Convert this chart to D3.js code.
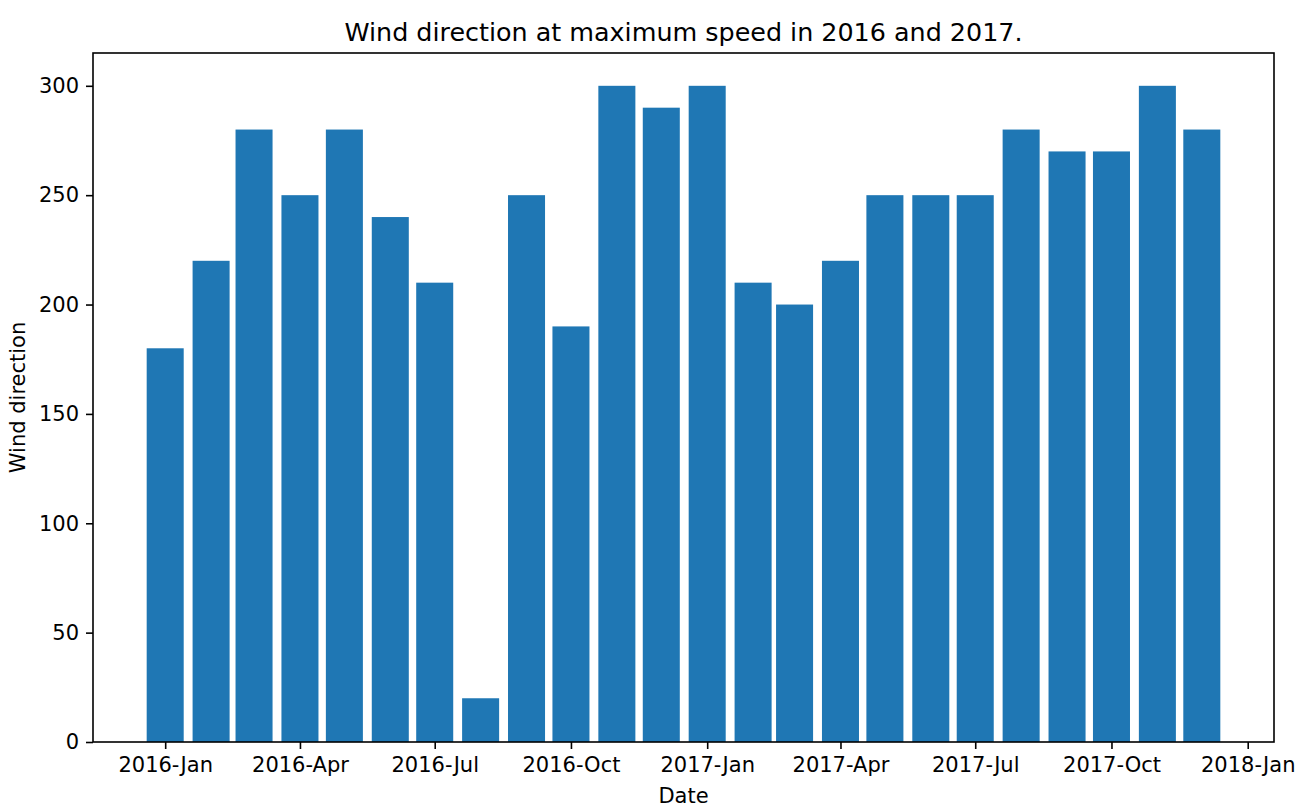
<!DOCTYPE html>
<html><head><meta charset="utf-8">
<script src="https://cdn.jsdelivr.net/npm/d3@7"></script>
<style>body{margin:0;background:#fff}text{font-family:"DejaVu Sans",sans-serif;fill:#000}</style>
</head><body><svg id="c" width="1297" height="809"></svg>
<script>
const months = ["2016-01","2016-02","2016-03","2016-04","2016-05","2016-06","2016-07","2016-08","2016-09","2016-10","2016-11","2016-12",
"2017-01","2017-02","2017-03","2017-04","2017-05","2017-06","2017-07","2017-08","2017-09","2017-10","2017-11","2017-12"];
const directions = [180,220,280,250,280,240,210,20,250,190,300,290,300,210,200,220,250,250,250,280,270,270,300,280];
const xTicks = ["2016-01","2016-04","2016-07","2016-10","2017-01","2017-04","2017-07","2017-10","2018-01"];
const yTicks = [0,50,100,150,200,250,300];

const svg = d3.select("#c");
const L=93, R=1274, T=53, B=742;
const parse = d3.timeParse("%Y-%m");
const dates = months.map(parse);
const DAY = 864e5, halfW = 12.5*DAY;
const dMin = +dates[0]-halfW, dMax = +dates[dates.length-1]+halfW, pad=(dMax-dMin)*0.05;
const x = d3.scaleTime().domain([new Date(dMin-pad), new Date(dMax+pad)]).range([L,R]);
const y = d3.scaleLinear().domain([0, 300*1.05]).range([B,T]);

svg.append("g").selectAll("rect").data(dates).join("rect")
  .attr("x", d=>x(new Date(+d-halfW)))
  .attr("width", d=>x(new Date(+d+halfW))-x(new Date(+d-halfW)))
  .attr("y", (d,i)=>y(directions[i]))
  .attr("height", (d,i)=>B-y(directions[i]))
  .attr("fill","#1f77b4");

const fmt = d3.timeFormat("%Y-%b");
const xa = svg.append("g").attr("transform",`translate(0,${B})`)
  .call(d3.axisBottom(x).tickValues(xTicks.map(parse)).tickFormat(fmt).tickSize(7).tickPadding(8));
const ya = svg.append("g").attr("transform",`translate(${L},0)`)
  .call(d3.axisLeft(y).tickValues(yTicks).tickSize(7).tickPadding(7));
[xa,ya].forEach(a=>{a.select(".domain").remove();a.selectAll("line").attr("stroke","#000").attr("stroke-width",1.6);
  a.selectAll("text").attr("font-size",21).attr("font-family","DejaVu Sans");});

svg.append("rect").attr("x",L).attr("y",T).attr("width",R-L).attr("height",B-T)
  .attr("fill","none").attr("stroke","#000").attr("stroke-width",1.6);

svg.append("text").attr("x",(L+R)/2).attr("y",41).attr("text-anchor","middle").attr("font-size",25.4)
  .text("Wind direction at maximum speed in 2016 and 2017.");
svg.append("text").attr("x",(L+R)/2).attr("y",803).attr("text-anchor","middle").attr("font-size",21).text("Date");
svg.append("text").attr("transform",`translate(25,${(T+B)/2}) rotate(-90)`).attr("text-anchor","middle").attr("font-size",21).text("Wind direction");
</script></body></html>
